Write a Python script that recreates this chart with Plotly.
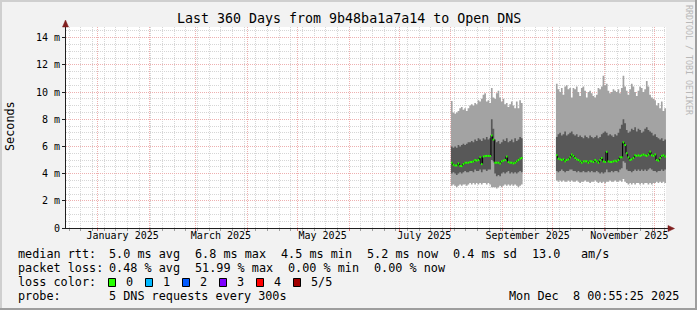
import plotly.graph_objects as go
from datetime import datetime, timedelta

# ---------------- data ----------------
END = datetime(2025, 12, 8, 0, 55, 25)
START = END - timedelta(days=360)

TITLE = "Last 360 Days from 9b48ba1a7a14 to Open DNS"
Y_TICK_VALUES = [0, 2, 4, 6, 8, 10, 12, 14]
Y_TICK_LABELS = ["0", "2 m", "4 m", "6 m", "8 m", "10 m", "12 m", "14 m"]
X_LABEL_DATES = ["2025-01-16", "2025-03-16", "2025-05-16", "2025-07-16", "2025-09-16", "2025-11-16"]
X_LABEL_TEXT = ["January 2025", "March 2025", "May 2025", "July 2025", "September 2025", "November 2025"]

# block 1: daily values starting 2025-08-01 (ms)
B1_START = "2025-08-01"
B1_P1 = [3.1, 3.2, 3.1, 3.0, 3.1, 3.2, 3.1, 3.2, 3.2, 3.1, 3.2, 3.3, 3.2, 3.3, 3.2, 3.3, 3.2, 3.3, 3.2, 3.3,
         3.3, 3.2, 3.3, 3.2, 3.0, 3.0, 3.0, 2.9, 3.0, 3.1, 3.0, 3.1, 3.2, 3.1, 3.2, 3.1, 3.2, 3.1, 3.2, 3.1,
         3.0, 3.1, 3.2]
B1_P2 = [4.0, 4.1, 4.0, 3.9, 4.0, 4.1, 4.0, 4.1, 4.2, 4.1, 4.1, 4.2, 4.2, 4.1, 4.3, 4.2, 4.2, 4.3, 4.1, 4.3,
         4.3, 4.2, 4.3, 4.3, 5.0, 4.9, 4.0, 3.8, 3.9, 3.8, 4.0, 4.1, 4.0, 4.1, 4.2, 4.0, 4.1, 4.0, 4.1, 4.0,
         4.1, 4.2, 4.1]
B1_MED = [4.8, 4.65, 4.6, 4.6, 4.75, 4.55, 4.55, 4.7, 4.8, 4.8, 4.8, 4.85, 4.85, 4.9, 5.0, 4.95, 5.0, 5.2, 4.7, 5.25,
          5.3, 5.3, 5.3, 5.3, 6.8, 6.5, 4.8, 4.8, 4.8, 4.75, 4.9, 4.95, 5.0, 5.25, 4.85, 4.8, 4.8, 4.75, 4.8, 4.9,
          5.0, 5.1, 5.15]
B1_P4 = [6.0, 5.9, 6.0, 5.9, 6.1, 6.0, 6.1, 6.2, 6.1, 6.2, 6.3, 6.3, 6.4, 6.3, 6.5, 6.4, 6.6, 6.5, 6.4, 6.6,
         6.5, 6.7, 6.5, 6.6, 8.0, 7.3, 6.5, 6.3, 6.4, 6.2, 6.3, 6.5, 6.4, 6.6, 6.3, 6.4, 6.5, 6.3, 6.6, 6.4,
         6.5, 6.7, 6.6]
B1_P5 = [9.34, 8.5, 8.4, 8.5, 8.6, 8.8, 8.9, 8.7, 8.8, 8.6, 8.8, 9.0, 9.1, 9.0, 9.2, 9.1, 9.4, 9.3, 9.5, 9.8,
         9.9, 9.3, 9.4, 9.2, 10.3, 9.6, 9.5, 9.9, 10.1, 9.6, 9.3, 9.5, 9.1, 9.2, 8.9, 9.1, 9.3, 9.0, 8.8, 9.3,
         8.8, 9.4, 9.2]

# block 2: daily values starting 2025-10-03 (ms)
B2_START = "2025-10-03"
B2_P1 = [3.5, 3.4, 3.5, 3.4, 3.5, 3.4, 3.4, 3.5, 3.4, 3.5, 3.4, 3.4, 3.5, 3.4, 3.3, 3.4, 3.4, 3.5, 3.4, 3.4,
         3.3, 3.4, 3.4, 3.5, 3.4, 3.3, 3.4, 3.3, 3.4, 3.3, 3.4, 3.4, 3.5, 3.4, 3.4, 3.5, 3.4, 3.4, 3.5, 3.4,
         3.6, 3.4, 3.3, 3.2, 3.3, 3.2, 3.3, 3.2, 3.3, 3.3, 3.2, 3.3, 3.2, 3.3, 3.3, 3.2, 3.3, 3.2, 3.3, 3.3,
         3.4, 3.3, 3.4, 3.3, 3.4, 3.3]
B2_P2 = [4.2, 4.1, 4.2, 4.3, 4.2, 4.1, 4.2, 4.2, 4.3, 4.3, 4.2, 4.2, 4.1, 4.2, 4.1, 4.1, 4.2, 4.1, 4.1, 4.2,
         4.1, 4.2, 4.1, 4.1, 4.2, 4.1, 4.0, 4.1, 4.0, 4.1, 4.3, 4.1, 4.1, 4.2, 4.1, 4.2, 4.2, 4.1, 4.3, 4.4,
         4.9, 4.8, 4.3, 4.2, 4.2, 4.1, 4.2, 4.3, 4.2, 4.3, 4.2, 4.3, 4.2, 4.3, 4.2, 4.3, 4.4, 4.3, 4.2, 4.2,
         4.1, 4.2, 4.2, 4.3, 4.2, 4.3]
B2_MED = [5.35, 5.1, 5.05, 5.0, 5.05, 4.9, 5.0, 5.05, 5.2, 5.4, 5.3, 5.15, 5.05, 5.0, 4.9, 4.8, 4.9, 4.9, 4.9, 4.8,
          4.9, 4.9, 4.85, 5.0, 4.9, 4.8, 5.0, 5.15, 4.9, 4.85, 5.6, 4.9, 4.85, 4.85, 4.9, 4.95, 4.9, 5.0, 5.2, 5.2,
          6.3, 6.1, 5.5, 5.2, 5.0, 5.05, 5.15, 5.35, 5.3, 5.35, 5.3, 5.35, 5.4, 5.35, 5.3, 5.4, 5.6, 5.35, 5.3, 5.4,
          5.0, 4.95, 5.15, 5.3, 5.35, 5.25]
B2_P4 = [6.7, 6.9, 7.0, 6.8, 6.9, 7.1, 6.8, 6.9, 7.0, 7.1, 6.9, 6.8, 6.9, 6.7, 6.8, 6.7, 6.6, 6.8, 6.7, 6.6,
         6.8, 6.7, 6.6, 6.7, 6.8, 6.6, 6.7, 6.9, 7.0, 7.1, 7.0, 6.8, 6.9, 6.8, 6.7, 6.9, 6.8, 7.0, 7.3, 7.6,
         8.0, 7.7, 7.2, 7.0, 7.1, 7.3, 7.2, 7.4, 7.1, 7.3, 7.2, 7.0, 7.1, 7.3, 7.4, 7.2, 7.1, 7.0, 6.8, 6.9,
         6.7, 6.6, 6.5, 6.6, 6.4, 6.5]
B2_P5 = [10.6, 10.2, 10.0, 10.3, 9.8, 10.4, 10.5, 10.2, 10.3, 9.6, 10.3, 10.2, 10.4, 10.0, 9.7, 10.3, 10.4, 10.1, 9.6, 10.0,
         10.1, 9.9, 9.7, 9.6, 9.8, 10.3, 10.2, 10.4, 11.2, 10.5, 10.6, 10.1, 9.9, 10.0, 10.2, 10.1, 10.0, 10.2, 9.9, 10.3,
         11.2, 10.4, 10.1, 9.8, 10.2, 10.6, 10.4, 10.0, 9.7, 10.1, 10.4, 10.3, 10.0, 10.2, 10.8, 10.4, 9.8, 9.6, 9.5, 9.4,
         9.0, 9.2, 8.8, 9.3, 8.6, 8.8]

BLOCKS = [
    (B1_START, B1_P1, B1_P2, B1_MED, B1_P4, B1_P5),
    (B2_START, B2_P1, B2_P2, B2_MED, B2_P4, B2_P5),
]

LEGEND_ROW1 = ["median rtt:", "5.0 ms avg", "6.8 ms max", "4.5 ms min", "5.2 ms now", "0.4 ms sd", "13.0", "am/s"]
LEGEND_ROW2 = ["packet loss:", "0.48 % avg", "51.99 % max", "0.00 % min", "0.00 % now"]
LEGEND_ROW3 = "loss color:"
LOSS_LABELS = ["0", "1", "2", "3", "4", "5/5"]
LOSS_COLORS = ["#26ff00", "#00b8ff", "#0059ff", "#7e00ff", "#ff0000", "#a10000"]
LEGEND_ROW4 = ["probe:", "5 DNS requests every 300s"]
DATE_TEXT = "Mon Dec  8 00:55:25 2025"
WATERMARK = "RRDTOOL / TOBI OETIKER"

# ---------------- styles / layout ----------------
W, H = 697, 310
ML, MR, MT, MB = 66, 31, 27, 82
PW, PH = W - ML - MR, H - MT - MB
YMAX = (H - MB - MT) / 13.6

LIGHT = "#a3a3a3"
DARK = "#585858"
MONO = "DejaVu Sans Mono"
BG = "#f2f2f2"
FS = 11.8

ROW1_X = [16, 107.3, 193.3, 279.3, 365, 451, 530, 579.3]
ROW2_X = [16, 107.3, 193.3, 286, 372]
ROW4_X = [16, 107.3]


def px(x):
    return (x - ML) / PW


def py(y):
    return (H - MB - y) / PH


def nb(s):
    return s.replace(" ", "\u00a0")


fig = go.Figure()

for start, p1, p2, med, p4, p5 in BLOCKS:
    t0 = datetime.fromisoformat(start)
    n = len(p1)
    xs = [t0 + timedelta(days=i) for i in range(n + 1)]
    ext = lambda a: list(a) + [a[-1]]
    common = dict(x=xs, mode="lines", line=dict(width=0, shape="hv"),
                  hoverinfo="skip", showlegend=False)
    fig.add_trace(go.Scatter(y=ext(p1), **common))
    fig.add_trace(go.Scatter(y=ext(p5), fill="tonexty", fillcolor=LIGHT, **common))
    fig.add_trace(go.Scatter(y=ext(p2), **common))
    fig.add_trace(go.Scatter(y=ext(p4), fill="tonexty", fillcolor=DARK, **common))
    fig.add_trace(go.Scatter(x=xs, y=ext(med), mode="lines",
                             line=dict(width=1, color="#000000", shape="hv"),
                             hoverinfo="skip", showlegend=False))
    # green horizontal pieces, one per step
    gx, gy = [], []
    for i, v in enumerate(med):
        gx += [xs[i], xs[i + 1], None]
        gy += [v, v, None]
    fig.add_trace(go.Scatter(x=gx, y=gy, mode="lines",
                             line=dict(width=2, color=LOSS_COLORS[0]),
                             connectgaps=False, hoverinfo="skip", showlegend=False))

# dummy trace to host the label axis
fig.add_trace(go.Scatter(x=[START, END], y=[None, None], xaxis="x2",
                         mode="lines", hoverinfo="skip", showlegend=False))

MGRID = "#eeb0b0"
GRID = "#d6d6d6"

fig.update_layout(
    width=W, height=H,
    margin=dict(l=ML, r=MR, t=MT, b=MB, pad=0),
    paper_bgcolor=BG, plot_bgcolor="#ffffff",
    showlegend=False,
    xaxis=dict(type="date", range=[START, END], tickmode="linear",
               tick0="2025-01-01", dtick="M1", showticklabels=False,
               showgrid=True, gridcolor=MGRID, griddash="1px,1px", gridwidth=1,
               ticks="outside", ticklen=2, tickcolor="#e07070",
               minor=dict(tickmode="linear", tick0="2024-12-15", dtick=7 * 86400000,
                          showgrid=True, gridcolor=GRID, griddash="1px,1px",
                          ticks="outside", ticklen=2, tickcolor="#a0a0a0"),
               showline=True, linecolor="#1f1f1f", linewidth=1, zeroline=False),
    xaxis2=dict(type="date", range=[START, END], overlaying="x", anchor="y", side="bottom",
                tickmode="array", tickvals=X_LABEL_DATES, ticktext=X_LABEL_TEXT,
                showgrid=False, ticks="", showline=False, zeroline=False,
                tickfont=dict(family=MONO, size=10, color="#000000")),
    yaxis=dict(range=[0, YMAX], tickmode="array", tickvals=Y_TICK_VALUES, ticktext=Y_TICK_LABELS,
               showgrid=True, gridcolor=MGRID, griddash="1px,1px",
               minor=dict(tickmode="linear", tick0=0, dtick=0.5, showgrid=True,
                          gridcolor=GRID, griddash="1px,1px"),
               ticks="outside", ticklen=3, tickcolor="#1f1f1f",
               showline=True, linecolor="#1f1f1f", linewidth=1, zeroline=False,
               tickfont=dict(family=MONO, size=10, color="#000000")),
)

ann = []
ann.append(dict(text=nb(TITLE), x=px(348.5), y=py(19), xanchor="center", yanchor="middle",
                font=dict(family=MONO, size=13.3, color="#000000")))
ann.append(dict(text="Seconds", x=px(10), y=py(126), xanchor="center", yanchor="middle",
                textangle=-90, font=dict(family=MONO, size=FS, color="#000000")))
ann.append(dict(text=nb(WATERMARK), x=px(689), y=py(60), xanchor="center", yanchor="middle",
                textangle=90, font=dict(family=MONO, size=8.3, color="#b8b8b8")))


def row(texts, xs, yy):
    for t, xx in zip(texts, xs):
        ann.append(dict(text=nb(t), x=px(xx), y=py(yy), xanchor="left", yanchor="middle",
                        font=dict(family=MONO, size=FS, color="#000000")))


row(LEGEND_ROW1, ROW1_X, 254.3)
row(LEGEND_ROW2, ROW2_X, 268.3)
row([LEGEND_ROW3], [16], 282.3)
row(LEGEND_ROW4, ROW4_X, 296.2)
ann.append(dict(text=nb(DATE_TEXT), x=px(681), y=py(296.2), xanchor="right", yanchor="middle",
                font=dict(family=MONO, size=FS, color="#000000")))

shapes = []
for k, (lab, col) in enumerate(zip(LOSS_LABELS, LOSS_COLORS)):
    bx = 108.5 + 37 * k
    shapes.append(dict(type="rect", xref="paper", yref="paper",
                       x0=px(bx), x1=px(bx + 7), y0=py(286.5), y1=py(278.5),
                       fillcolor=col, line=dict(color="#000000", width=1)))
    ann.append(dict(text=lab, x=px(bx + 15.5), y=py(282.3), xanchor="left", yanchor="middle",
                    font=dict(family=MONO, size=FS, color="#000000")))

for a in ann:
    a.update(xref="paper", yref="paper", showarrow=False)

# frame shading
shapes += [
    dict(type="rect", xref="paper", yref="paper", x0=px(0), x1=px(W), y0=py(0), y1=py(2),
         fillcolor="#cfcfcf", line=dict(width=0), layer="above"),
    dict(type="rect", xref="paper", yref="paper", x0=px(0), x1=px(2), y0=py(0), y1=py(H),
         fillcolor="#cfcfcf", line=dict(width=0), layer="above"),
    dict(type="rect", xref="paper", yref="paper", x0=px(0), x1=px(W), y0=py(H - 2), y1=py(H),
         fillcolor="#9e9e9e", line=dict(width=0), layer="above"),
    dict(type="rect", xref="paper", yref="paper", x0=px(W - 2), x1=px(W), y0=py(0), y1=py(H),
         fillcolor="#9e9e9e", line=dict(width=0), layer="above"),
]
# axis extensions and arrows
AX = "#1f1f1f"
ARROW = "#801f1f"
shapes += [
    dict(type="line", xref="paper", yref="paper", x0=px(65.5), x1=px(65.5), y0=py(MT), y1=py(22),
         line=dict(color=AX, width=1)),
    dict(type="path", xref="paper", yref="paper",
         path=f"M {px(62.5)} {py(27)} L {px(65.5)} {py(20)} L {px(68.5)} {py(27)} Z",
         fillcolor=ARROW, line=dict(color=ARROW, width=0.5)),
    dict(type="line", xref="paper", yref="paper", x0=px(ML + PW), x1=px(670), y0=py(228.5), y1=py(228.5),
         line=dict(color=AX, width=1)),
    dict(type="path", xref="paper", yref="paper",
         path=f"M {px(668)} {py(225.5)} L {px(674.5)} {py(228.5)} L {px(668)} {py(231.5)} Z",
         fillcolor=ARROW, line=dict(color=ARROW, width=0.5)),
]

fig.update_layout(annotations=ann, shapes=shapes)
fig.write_html("out.html")
